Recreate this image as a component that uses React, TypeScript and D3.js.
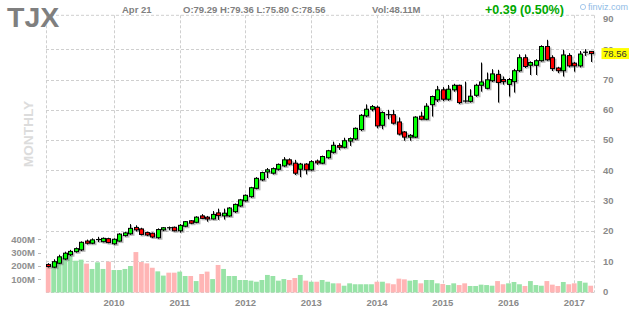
import React from 'react';
import * as d3 from 'd3';

// Monthly candles, Jan 2009 .. Apr 2017 (index 0 = Jan 2009)
const OPEN = [
  9.0, 8.1, 9.4, 10.8, 12.2, 13.2, 13.8, 16.7, 16.0, 17.0, 16.5, 17.5,
  15.8, 16.7, 18.5, 19.1, 21.2, 20.7, 19.5, 19.3, 17.8, 20.4, 21.1, 21.25,
  20.1, 21.6, 23.4, 22.9, 25.0, 24.6, 24.0, 26.0, 25.0, 25.0, 26.4, 28.3,
  30.0, 31.35, 34.1, 36.9, 39.5, 39.1, 40.4, 41.5, 43.5, 42.4, 40.4, 42.1,
  40.2, 43.1, 42.4, 44.2, 46.0, 48.2, 47.65, 49.7, 50.4, 53.5, 58.0, 60.2,
  60.85, 54.9, 58.4, 58.4, 56.0, 52.7, 51.0, 51.0, 57.9, 56.9, 61.7, 63.3,
  66.6, 63.5, 66.6, 68.1, 62.9, 62.8, 64.8, 68.1, 67.1, 69.6, 71.7, 70.0,
  68.4, 69.3, 72.9, 77.2, 74.7, 74.7, 76.2, 80.9, 77.2, 73.8, 72.9, 77.9,
  75.4, 74.5, 78.8, 79.29,
];
const HIGH = [
  9.4, 10.7, 12.2, 13.2, 13.8, 14.6, 16.6, 17.2, 17.6, 18.1, 17.9, 17.8,
  17.6, 19.3, 19.8, 22.3, 21.9, 21.1, 19.8, 19.5, 20.9, 21.3, 21.5, 21.5,
  22.3, 23.3, 23.6, 24.9, 25.6, 25.0, 26.6, 27.4, 27.4, 27.9, 29.1, 30.6,
  32.1, 34.6, 37.8, 39.6, 40.8, 41.0, 42.3, 44.4, 44.0, 43.5, 42.5, 42.4,
  43.4, 43.6, 44.9, 46.8, 49.5, 49.0, 50.8, 50.9, 54.2, 58.6, 61.8, 61.6,
  61.4, 59.5, 60.0, 60.0, 57.5, 53.0, 52.0, 57.9, 59.4, 62.2, 64.7, 67.9,
  67.5, 68.2, 68.6, 68.3, 69.3, 66.8, 68.6, 75.6, 72.3, 73.4, 73.2, 71.0,
  70.5, 73.5, 78.3, 78.3, 76.0, 76.7, 81.3, 83.1, 78.0, 74.2, 79.8, 78.7,
  75.8, 79.4, 80.0, 79.36,
];
const LOW = [
  8.0, 7.9, 9.2, 10.5, 11.8, 12.9, 13.4, 15.6, 15.7, 16.4, 16.3, 16.0,
  15.5, 16.5, 18.2, 18.8, 19.9, 18.6, 18.4, 17.7, 17.5, 20.0, 20.3, 19.9,
  19.5, 21.3, 22.3, 22.6, 24.0, 23.1, 23.8, 23.7, 23.8, 24.7, 26.0, 28.0,
  29.7, 31.0, 33.8, 36.5, 37.5, 38.7, 40.0, 41.2, 41.7, 38.5, 37.8, 38.7,
  39.9, 41.9, 42.1, 43.9, 45.6, 46.8, 47.3, 48.1, 50.0, 53.0, 57.6, 59.5,
  53.9, 53.6, 56.9, 55.2, 51.6, 49.8, 49.8, 50.7, 56.6, 56.6, 57.8, 62.6,
  62.9, 63.0, 66.0, 61.9, 62.4, 62.4, 64.3, 66.0, 66.8, 69.2, 62.4, 68.3,
  64.4, 65.7, 72.5, 73.8, 71.5, 71.5, 75.9, 76.2, 72.8, 72.1, 71.0, 74.0,
  72.6, 74.0, 77.8, 75.80,
];
const CLOSE = [
  8.3, 9.9, 11.5, 12.7, 13.3, 14.2, 16.3, 16.0, 17.1, 17.2, 17.6, 16.2,
  17.3, 19.0, 19.4, 20.9, 20.4, 18.9, 18.7, 18.05, 20.5, 21.1, 21.0, 20.1,
  21.9, 23.1, 22.6, 24.6, 24.2, 24.0, 25.5, 25.1, 25.9, 27.6, 28.8, 30.3,
  31.8, 34.3, 37.4, 39.3, 40.2, 40.6, 42.0, 43.5, 42.1, 39.1, 42.1, 40.2,
  42.9, 42.5, 44.6, 46.5, 48.3, 47.65, 49.8, 50.5, 53.9, 58.2, 60.2, 61.05,
  54.7, 59.1, 58.3, 55.6, 52.0, 51.0, 51.6, 57.6, 56.9, 61.2, 64.4, 66.6,
  63.5, 66.8, 68.1, 62.4, 62.7, 64.5, 68.1, 69.2, 69.9, 71.85, 69.0, 69.3,
  70.0, 72.9, 77.2, 74.3, 75.6, 76.2, 80.9, 76.5, 73.6, 72.9, 78.1, 74.5,
  74.5, 78.4, 79.0, 78.56,
];
// monthly volume, millions of shares
const VOLUME = [
  199, 224, 262, 282, 277, 239, 247, 217, 177, 227, 177, 232,
  169, 169, 177, 199, 304, 229, 219, 186, 159, 127, 149, 149,
  157, 124, 124, 86, 139, 157, 101, 207, 177, 124, 124, 94,
  94, 89, 81, 94, 132, 124, 89, 101, 94, 109, 132, 89,
  81, 81, 94, 81, 69, 69, 51, 69, 62, 62, 62, 62,
  81, 81, 69, 62, 104, 99, 89, 94, 69, 94, 94, 69,
  64, 56, 69, 56, 69, 49, 49, 59, 56, 51, 86, 62,
  69, 79, 62, 49, 86, 56, 51, 86, 59, 49, 79, 62,
  69, 86, 74, 51,
];
const YEAR_LABELS = ['2010', '2011', '2012', '2013', '2014', '2015', '2016', '2017'];
const YEAR_INDEX = [12, 24, 36, 48, 60, 72, 84, 96];
const PRICE_TICKS = [0, 10, 20, 30, 40, 50, 60, 70, 80, 90];
const VOLUME_TICKS = [100, 200, 300, 400];
const VOLUME_TICK_LABELS = ['100M', '200M', '300M', '400M'];

const FONT = "Arial, 'Liberation Sans', sans-serif";

export default function App() {
  const n = CLOSE.length;
  const x = d3.scaleLinear().domain([0, n - 1]).range([48.2, 590.7]);
  const y = d3.scaleLinear().domain([0, 90]).range([291.7, 18.9]);
  const yv = d3.scaleLinear().domain([0, 400]).range([292.5, 239.3]);

  const left = 46;
  const right = 594;
  const top = 15.3;
  const bottom = 292.5;
  const grid = '#cfcfcf';
  const last = CLOSE[n - 1];

  const idx = d3.range(n);

  return (
    <svg
      width={640}
      height={311}
      style={{ position: 'absolute', left: 0, top: 0, background: '#fff' }}
      fontFamily={FONT}
    >
      <rect x={0} y={0} width={640} height={311} fill="#fff" />
      {/* grid */}
      {PRICE_TICKS.filter((t) => t < 90).map((t) => (
        <line key={'h' + t} x1={left} x2={right} y1={Math.round(y(t)) + 0.5} y2={Math.round(y(t)) + 0.5}
          stroke={grid} strokeDasharray="3,2" />
      ))}
      <line x1={left} x2={right} y1={top} y2={top} stroke={grid} strokeDasharray="3,2" />
      {[left, right].map((v) => (
        <line key={'b' + v} x1={v + 0.5} x2={v + 0.5} y1={top} y2={bottom} stroke={grid} strokeDasharray="3,2" />
      ))}
      {YEAR_INDEX.map((yi) => (
        <line key={'v' + yi} x1={Math.round(x(yi)) + 0.5} x2={Math.round(x(yi)) + 0.5} y1={top} y2={bottom}
          stroke={grid} strokeDasharray="3,2" />
      ))}

      {/* volume */}
      {idx.map((i) => (
        <rect key={'vol' + i} x={x(i) - 2.4} width={4.8} y={yv(VOLUME[i])} height={yv(0) - yv(VOLUME[i])}
          fill={CLOSE[i] >= OPEN[i] ? '#98e3a7' : '#ffb5b5'} />
      ))}

      {/* candles: shadow */}
      {idx.map((i) => {
        const cx = Math.round(x(i)) + 0.5;
        const bt = y(Math.max(OPEN[i], CLOSE[i]));
        const bb = y(Math.min(OPEN[i], CLOSE[i]));
        return (
          <g key={'s' + i} opacity={0.45}>
            <line x1={cx + 1} x2={cx + 1} y1={y(HIGH[i]) + 1} y2={y(LOW[i]) + 1} stroke="#666" />
            <rect x={cx - 2 + 1} y={bt + 1} width={5} height={Math.max(bb - bt, 1) + 1} fill="#666" />
          </g>
        );
      })}
      {/* candles */}
      {idx.map((i) => {
        const cx = Math.round(x(i)) + 0.5;
        const up = CLOSE[i] >= OPEN[i];
        const bt = y(Math.max(OPEN[i], CLOSE[i]));
        const bb = y(Math.min(OPEN[i], CLOSE[i]));
        const h = bb - bt;
        return (
          <g key={'c' + i}>
            <line x1={cx} x2={cx} y1={y(HIGH[i])} y2={y(LOW[i])} stroke="#000" />
            {h < 1.2 ? (
              <line x1={cx - 2.5} x2={cx + 2.5} y1={bt} y2={bt} stroke="#000" strokeWidth={1.2} />
            ) : (
              <rect x={cx - 2} y={bt} width={4} height={h} fill={up ? '#00ff00' : '#ff0000'} stroke="#000" strokeWidth={1} />
            )}
          </g>
        );
      })}

      {/* right price axis */}
      {PRICE_TICKS.map((t) => (
        <text key={'pt' + t} x={603} y={y(t)} dy="0.35em" fontSize={9.5} fontWeight="bold" fill="#8a8a8a">
          {t}
        </text>
      ))}
      <rect x={601.5} y={y(last) - 5.5} width={27.5} height={11} fill="#ffff00" />
      <text x={603} y={y(last)} dy="0.35em" fontSize={9.5} fill="#333">
        {d3.format('.2f')(last)}
      </text>

      {/* volume axis */}
      {VOLUME_TICKS.map((t, k) => (
        <g key={'vt' + t}>
          <text x={35} y={yv(t)} dy="0.35em" textAnchor="end" fontSize={9.5} fontWeight="bold" fill="#909090">
            {VOLUME_TICK_LABELS[k]}
          </text>
          <line x1={38} x2={41} y1={Math.round(yv(t)) + 0.5} y2={Math.round(yv(t)) + 0.5} stroke="#bbb" />
        </g>
      ))}

      {/* x axis years */}
      {YEAR_INDEX.map((yi, k) => (
        <text key={'yl' + yi} x={x(yi)} y={305.5} textAnchor="middle" fontSize={9.5} fontWeight="bold" fill="#8a8a8a">
          {YEAR_LABELS[k]}
        </text>
      ))}

      {/* MONTHLY */}
      <text transform="translate(33.3,134) rotate(-90)" textAnchor="middle" fontSize={13.7} fontWeight="bold" fill="#dcdcdc">
        MONTHLY
      </text>

      {/* header */}
      <text x={7} y={26.5} fontSize={28.5} fontWeight="bold" fill="#7f7f7f">TJX</text>
      <text x={122} y={13} fontSize={9.5} fontWeight="bold" fill="#808080">Apr 21</text>
      <text x={183} y={13} fontSize={9.5} fontWeight="bold" fill="#808080">O:79.29 H:79.36 L:75.80 C:78.56</text>
      <text x={372} y={13} fontSize={9.5} fontWeight="bold" fill="#808080">Vol:48.11M</text>
      <text x={485} y={14} fontSize={12.5} fontWeight="bold" fill="#00a800">+0.39 (0.50%)</text>
      <circle cx={583} cy={7} r={2.6} fill="none" stroke="#9cc3ea" strokeWidth={0.9} />
      <text x={588} y={10} fontSize={9} fill="#8fbbe6">finviz.com</text>
    </svg>
  );
}
